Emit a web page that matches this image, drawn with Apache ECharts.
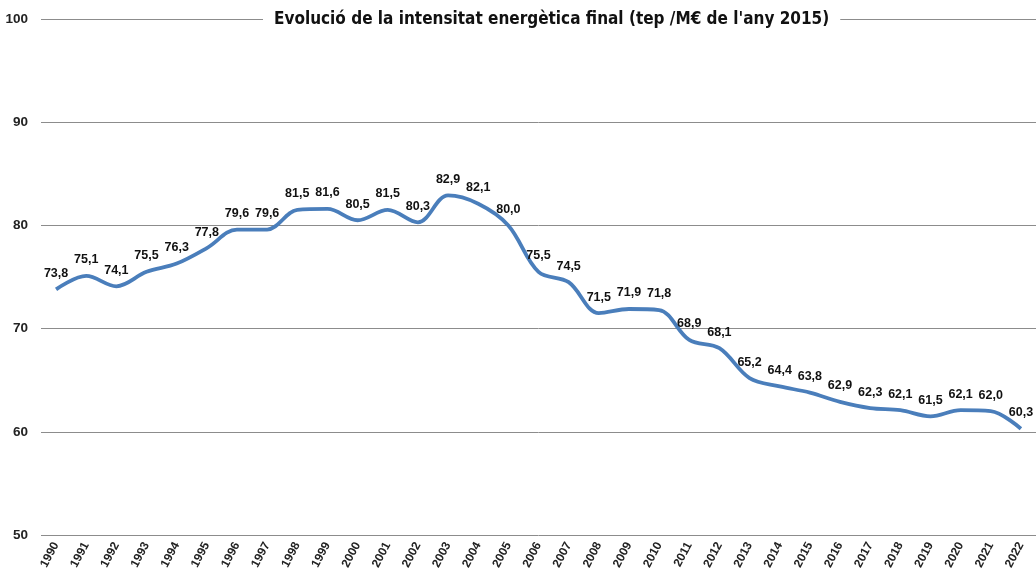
<!DOCTYPE html>
<html>
<head>
<meta charset="utf-8">
<script src="https://cdn.jsdelivr.net/npm/echarts@6/dist/echarts.min.js"></script>
<style>
  html, body { margin: 0; padding: 0; background: #fff; }
  #chart { width: 1036px; height: 574px; }
</style>
</head>
<body>
<div id="chart"></div>
<script>
// dades
const anys = ['1990','1991','1992','1993','1994','1995','1996','1997','1998','1999','2000',
  '2001','2002','2003','2004','2005','2006','2007','2008','2009','2010','2011','2012',
  '2013','2014','2015','2016','2017','2018','2019','2020','2021','2022'];
const intensitat = [73.8, 75.1, 74.1, 75.5, 76.3, 77.8, 79.6, 79.6, 81.5, 81.6, 80.5,
  81.5, 80.3, 82.9, 82.1, 80.0, 75.5, 74.5, 71.5, 71.9, 71.8, 68.9, 68.1,
  65.2, 64.4, 63.8, 62.9, 62.3, 62.1, 61.5, 62.1, 62.0, 60.3];
const titol = "Evolució de la intensitat energètica final (tep /M€ de l'any 2015)";

const fontText = '"Liberation Sans", Arial, sans-serif';

const chart = echarts.init(document.getElementById('chart'));

const option = {
  animation: false,
  title: {
    text: titol,
    left: 263,
    top: 9,
    padding: [2, 11],
    backgroundColor: '#fff',
    textStyle: {
      fontFamily: '"DejaVu Sans Condensed", sans-serif',
      fontSize: 17,
      fontWeight: 'bold',
      color: '#111'
    }
  },
  grid: {
    left: 41,
    top: 19,
    width: 1000,
    height: 516
  },
  xAxis: {
    type: 'category',
    data: anys,
    boundaryGap: true,
    axisLine: { show: false },
    axisTick: { show: false },
    axisLabel: {
      rotate: 62,
      margin: 8,
      fontSize: 12,
      fontWeight: 'bold',
      color: '#222',
      fontFamily: fontText
    }
  },
  yAxis: {
    type: 'value',
    min: 50,
    max: 100,
    interval: 10,
    axisLine: { show: false },
    axisTick: { show: false },
    axisLabel: {
      margin: 13,
      fontSize: 13.5,
      fontWeight: 'bold',
      color: '#222',
      fontFamily: fontText
    },
    splitLine: { lineStyle: { color: '#8c8c8c', width: 1 } }
  },
  series: [{
    type: 'line',
    data: intensitat,
    smooth: 0.35,
    symbol: 'circle',
    symbolSize: 1,
    showSymbol: true,
    itemStyle: { color: 'rgba(0,0,0,0)' },
    z: 1,
    lineStyle: { color: '#4a7ebb', width: 3.8 },
    label: {
      show: true,
      position: 'top',
      distance: 9,
      fontSize: 12.5,
      fontWeight: 'bold',
      color: '#111',
      fontFamily: fontText,
      formatter: p => p.value.toFixed(1).replace('.', ',')
    }
  }]
};

chart.setOption(option);
</script>
</body>
</html>
